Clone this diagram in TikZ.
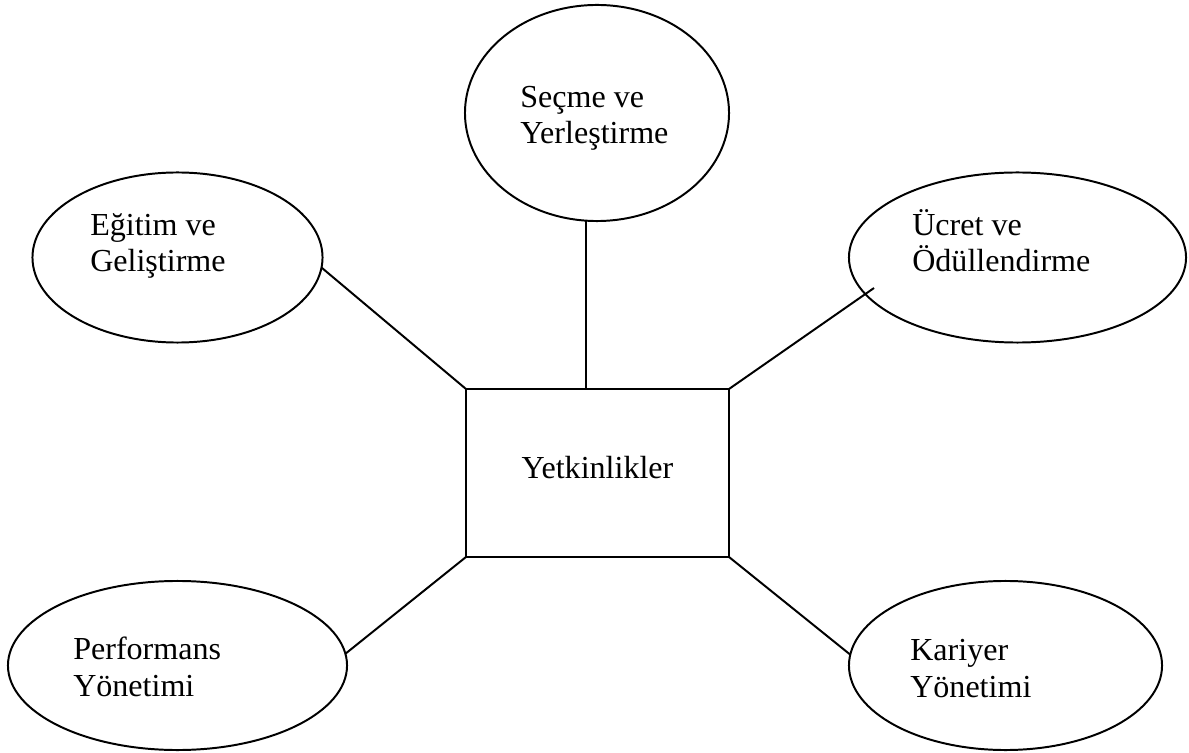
\documentclass[tikz,border=0pt]{standalone}
\usepackage{fontspec}
\setmainfont{Liberation Serif}
\usetikzlibrary{shapes.geometric}

\begin{document}
\begin{tikzpicture}[
    x=0.025cm, y=-0.025cm,
    bubble/.style={draw, ellipse, line width=1.4pt, inner sep=0pt, outer sep=0pt},
    bubbletext/.style={font=\fontsize{22.8}{26.3}\selectfont, align=left,
                       anchor=base west, inner sep=0pt},
    link/.style={line width=1.4pt},
]
\useasboundingbox (0,0) rectangle (1189,753);

% ===================== CENTRE =====================
\node[draw, line width=1.4pt, inner sep=0pt, outer sep=0pt,
      minimum width=6.575cm, minimum height=4.2cm,
      text height=0.55cm, text depth=0.3cm,
      font=\fontsize{22.8}{26.3}\selectfont] (yetkin) at (597.5, 473)
    {Yetkinlikler};

% ===================== BUBBLES =====================
% text anchors sit on the baseline of the second line
\node[bubble, minimum width=6.6cm, minimum height=5.4cm] (secme) at (597, 113) {};
\node[bubbletext] (secmetxt) at (520, 144) {Seçme ve\\Yerleştirme};

\node[bubble, minimum width=7.25cm, minimum height=4.25cm] (egitim) at (177.5, 257.5) {};
\node[bubbletext] (egitimtxt) at (90, 272) {Eğitim ve\\Geliştirme};

\node[bubble, minimum width=8.425cm, minimum height=4.25cm] (ucret) at (1017.5, 257.5) {};
\node[bubbletext] (ucrettxt) at (912, 272) {Ücret ve\\Ödüllendirme};

\node[bubble, minimum width=8.475cm, minimum height=4.225cm] (performans) at (177.5, 665.5) {};
\node[bubbletext] (performanstxt) at (73, 696) {Performans\\Yönetimi};

\node[bubble, minimum width=7.825cm, minimum height=4.225cm] (kariyer) at (1005.5, 665.5) {};
\node[bubbletext] (kariyertxt) at (910, 697) {Kariyer\\Yönetimi};

% ===================== LINKS =====================
% the right upper line runs a little into its bubble
\coordinate (ucretend) at (874, 288);

\draw[link] (secme.264) -- (secme.264 |- yetkin.north);
\draw[link] (egitim.-4) -- (yetkin.north west);
\draw[link] (ucretend) -- (yetkin.north east);
\draw[link] (performans.4) -- (yetkin.south west);
\draw[link] (kariyer.176) -- (yetkin.south east);

\end{tikzpicture}
\end{document}
